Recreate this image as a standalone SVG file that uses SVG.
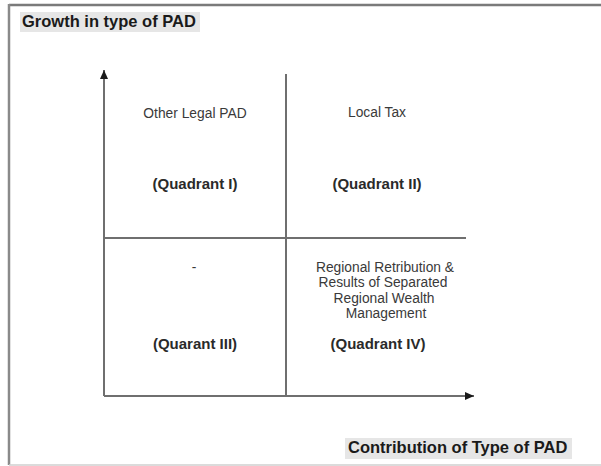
<svg xmlns="http://www.w3.org/2000/svg" width="601" height="466" viewBox="0 0 601 466">
<style>
.ax{stroke:#6f6f6f;stroke-width:2;fill:none}
.t{font-family:"Liberation Sans",Arial,sans-serif;font-size:13.8px;fill:#3a3a3a;text-anchor:middle}
.q{font-family:"Liberation Sans",Arial,sans-serif;font-size:15px;font-weight:bold;fill:#2a2a2a;text-anchor:middle}
.h{font-family:"Liberation Sans",Arial,sans-serif;font-size:16.5px;font-weight:bold;fill:#1a1a1a}
.hb{fill:#e6e6e6}
</style>
<defs>
<marker id="arr" markerWidth="10" markerHeight="8" refX="9" refY="4" orient="auto" markerUnits="userSpaceOnUse">
<path d="M0,0 L9,4 L0,8 Z" fill="#1a1a1a"/>
</marker>
</defs>
<rect x="0" y="0" width="601" height="466" fill="#ffffff"/>
<g id="frame">
<line x1="9" y1="5" x2="601" y2="5" stroke="#7a7a7a" stroke-width="2.5"/>
<line x1="9" y1="4" x2="9" y2="465" stroke="#8a8a8a" stroke-width="2.5"/>
<line x1="9" y1="465" x2="601" y2="465" stroke="#cfcfcf" stroke-width="1.5"/>
</g>
<g id="connectors">
<line class="ax" x1="104" y1="396" x2="104" y2="70" marker-end="url(#arr)"/>
<line class="ax" x1="104" y1="396" x2="474" y2="396" marker-end="url(#arr)"/>
<line class="ax" x1="286" y1="74" x2="286" y2="396"/>
<line class="ax" x1="104" y1="238" x2="466" y2="238"/>
</g>
<g id="title-y">
<rect class="hb" x="20" y="12" width="180" height="20"/>
<text class="h" x="22" y="27">Growth in type of PAD</text>
</g>
<g id="title-x">
<rect class="hb" x="345" y="438" width="227" height="21"/>
<text class="h" x="348" y="453">Contribution of Type of PAD</text>
</g>
<g id="q1">
<text class="t" x="195" y="118">Other Legal PAD</text>
<text class="q" x="195" y="189">(Quadrant I)</text>
</g>
<g id="q2">
<text class="t" x="377" y="117">Local Tax</text>
<text class="q" x="377" y="189">(Quadrant II)</text>
</g>
<g id="q3">
<text class="t" x="194" y="272">-</text>
<text class="q" x="195" y="349">(Quarant III)</text>
</g>
<g id="q4">
<text class="t" x="385" y="272">Regional Retribution &amp;</text>
<text class="t" x="383" y="287">Results of Separated</text>
<text class="t" x="384" y="303">Regional Wealth</text>
<text class="t" x="386" y="318">Management</text>
<text class="q" x="378" y="349">(Quadrant IV)</text>
</g>
</svg>
